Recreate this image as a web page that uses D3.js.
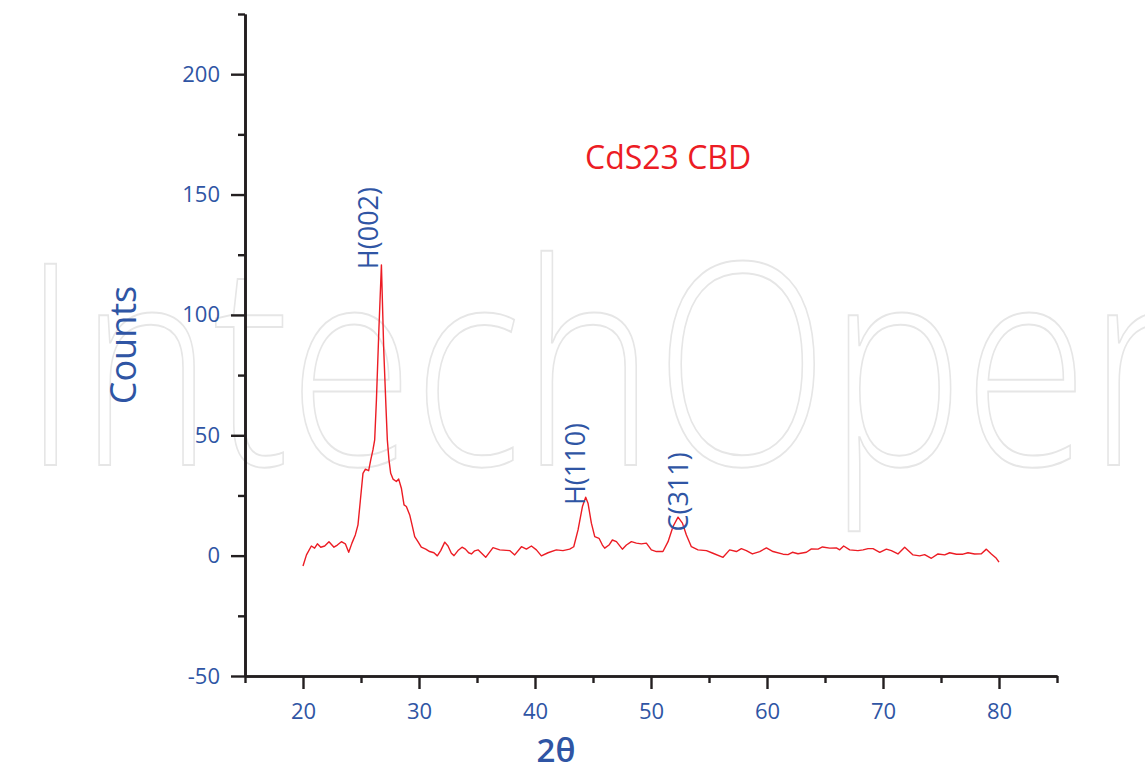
<!DOCTYPE html>
<html>
<head>
<meta charset="utf-8">
<script src="https://cdn.jsdelivr.net/npm/d3@7"></script>
<style>
  body { margin: 0; background: #fff; }
  svg { display: block; }
</style>
</head>
<body>
<svg id="chart" width="1145" height="770"></svg>
<script>
// 2theta positions and counts
var twoTheta = [20.0, 20.3, 20.72, 21.0, 21.24, 21.53, 21.87, 22.24, 22.67, 22.96, 23.31, 23.65, 23.94, 24.22, 24.51, 24.74,
  24.95, 25.17, 25.38, 25.66, 25.84, 26.03, 26.18, 26.33, 26.55, 26.76, 26.96, 27.15, 27.27, 27.41, 27.56, 27.76, 28.05,
  28.25, 28.48, 28.71, 28.91, 29.2, 29.4, 29.63, 29.91, 30.2, 30.58, 30.92, 31.29, 31.58, 31.87, 32.22, 32.5, 32.79,
  33.02, 33.36, 33.71, 34.0, 34.28, 34.52, 34.8, 35.09, 35.75, 36.38, 36.96, 37.82, 38.25, 38.83, 39.26, 39.69, 40.12,
  40.55, 41.12, 41.84, 42.41, 42.99, 43.34, 43.71, 44.09, 44.37, 44.57, 44.86, 45.15, 45.52, 45.81, 46.01, 46.38,
  46.67, 47.02, 47.53, 47.88, 48.31, 48.74, 49.17, 49.6, 50.03, 50.47, 51.03, 51.47, 51.9, 52.33, 52.71, 53.05, 53.48,
  54.05, 54.78, 55.34, 56.21, 56.78, 57.36, 57.79, 58.22, 58.74, 59.37, 59.95, 60.52, 61.38, 61.81, 62.19, 62.67,
  63.4, 63.83, 64.4, 64.78, 65.41, 65.98, 66.27, 66.61, 67.13, 67.84, 68.28, 68.71, 69.14, 69.72, 70.29, 70.72,
  71.29, 71.87, 72.59, 73.16, 73.59, 74.17, 74.74, 75.32, 75.75, 76.33, 76.9, 77.33, 77.9, 78.48, 78.91, 79.34,
  79.77, 80.0];
var counts = [-4.3, 0.3, 4.0, 3.1, 4.9, 3.5, 4.0, 5.8, 3.5, 4.4, 5.8, 4.9, 1.4, 5.2, 8.6, 12.8,
  23.2, 34.2, 35.9, 35.3, 39.8, 43.9, 48.1, 64.7, 95.0, 120.8, 85.5, 62.0, 48.1, 39.8, 34.2, 31.8, 30.8,
  31.8, 28.0, 21.1, 20.4, 16.9, 12.8, 7.9, 5.8, 3.5, 2.7, 1.7, 1.2, -0.1, 2.1, 5.6, 4.0, 1.0,
  0.0, 2.1, 3.5, 2.7, 1.2, 0.7, 2.0, 2.4, -0.7, 3.3, 2.4, 2.1, 0.3, 3.7, 2.7, 4.0, 2.4,
  -0.1, 1.2, 2.4, 2.1, 2.7, 3.7, 10.7, 20.4, 24.3, 21.8, 13.5, 7.9, 7.2, 4.4, 3.1, 4.4,
  6.5, 5.8, 2.7, 4.4, 5.8, 5.2, 4.9, 5.2, 2.4, 1.7, 1.7, 5.8, 12.1, 16.0, 13.5, 8.6, 3.7,
  2.4, 2.1, 1.0, -0.7, 2.4, 1.7, 2.9, 2.1, 0.7, 1.7, 3.2, 1.7, 0.6, 0.4, 1.4, 0.8,
  1.4, 2.8, 2.7, 3.6, 3.1, 3.2, 2.4, 4.0, 2.4, 2.1, 2.4, 2.9, 2.9, 1.4, 2.7, 2.1,
  0.7, 3.5, 0.3, -0.1, 0.4, -1.1, 0.7, 0.3, 1.2, 0.6, 0.6, 1.2, 0.7, 0.8, 2.7, 0.7,
  -1.1, -2.7];

var xMajor = [20, 30, 40, 50, 60, 70, 80];
var xMinor = [15, 25, 35, 45, 55, 65, 75, 85];
var yMajor = [-50, 0, 50, 100, 150, 200];
var yMinor = [-25, 25, 75, 125, 175, 225];

// peak labels: [2theta, counts at label foot, text]
var peakNames = ["H(002)", "H(110)", "C(311)"];
var peakX = [26.44, 44.3, 53.2];
var peakY = [119, 21, 10];

var blue = "#2f55a4", red = "#ec1c24", ink = "#231f20";
var svg = d3.select("#chart");

var x = d3.scaleLinear().domain([15, 85]).range([245, 1057]);
var y = d3.scaleLinear().domain([-50, 225]).range([676, 14]);

// faint publisher watermark behind the plot
svg.append("text")
  .attr("x", 22)
  .attr("y", 465)
  .attr("textLength", 1200)
  .attr("lengthAdjust", "spacingAndGlyphs")
  .style("font-family", "'Open Sans', sans-serif")
  .style("font-weight", 300)
  .style("font-size", "282px")
  .style("fill", "#fff")
  .style("stroke", "#e6e6e6")
  .style("stroke-width", 2)
  .text("IntechOpen");

function styleAxis(g) {
  g.select(".domain").attr("stroke", ink).attr("stroke-width", 2.6);
  g.selectAll(".tick line").attr("stroke", ink).attr("stroke-width", 2.4);
  g.selectAll(".tick text")
    .attr("fill", blue)
    .style("font-family", "'Open Sans', 'Noto Sans', sans-serif")
    .style("font-size", "22px");
}

function plain(d) { return String(d); }

var gx = svg.append("g").attr("transform", "translate(0,676)");
gx.append("g")
  .call(d3.axisBottom(x).tickValues(xMinor).tickSize(7).tickSizeOuter(0).tickFormat(""))
  .call(styleAxis);
gx.append("g")
  .call(d3.axisBottom(x).tickValues(xMajor).tickSize(13).tickSizeOuter(0).tickPadding(14).tickFormat(plain))
  .call(styleAxis);

var gy = svg.append("g").attr("transform", "translate(245,0)");
gy.append("g")
  .call(d3.axisLeft(y).tickValues(yMinor).tickSize(7).tickSizeOuter(0).tickFormat(""))
  .call(styleAxis);
gy.append("g")
  .call(d3.axisLeft(y).tickValues(yMajor).tickSize(14).tickSizeOuter(0).tickPadding(11).tickFormat(plain))
  .call(styleAxis);

// pattern
var line = d3.line()
  .x(function(d, i) { return x(twoTheta[i]); })
  .y(function(d) { return y(d); });

svg.append("path")
  .datum(counts)
  .attr("d", line)
  .attr("fill", "none")
  .attr("stroke", red)
  .attr("stroke-width", 1.4)
  .attr("stroke-linejoin", "round");

// peak indices, written upward
svg.selectAll("text.peak")
  .data(peakNames)
  .enter()
  .append("text")
  .attr("class", "peak")
  .attr("transform", function(d, i) {
    return "translate(" + x(peakX[i]) + "," + y(peakY[i]) + ") rotate(-90)";
  })
  .attr("fill", blue)
  .style("font-family", "'Open Sans', 'Noto Sans', sans-serif")
  .style("font-size", "27px")
  .text(function(d) { return d; });

svg.append("text")
  .attr("x", 585)
  .attr("y", 169)
  .attr("fill", red)
  .style("font-family", "'Open Sans', 'Noto Sans', sans-serif")
  .style("font-size", "32px")
  .text("CdS23 CBD");

svg.append("text")
  .attr("transform", "translate(136,345) rotate(-90)")
  .attr("text-anchor", "middle")
  .attr("fill", blue)
  .style("font-family", "'Open Sans', 'Noto Sans', sans-serif")
  .style("font-size", "36px")
  .text("Counts");

svg.append("text")
  .attr("x", 556)
  .attr("y", 762)
  .attr("text-anchor", "middle")
  .attr("fill", blue)
  .style("font-family", "'Open Sans', 'Noto Sans', sans-serif")
  .style("font-size", "33px")
  .style("font-weight", 600)
  .text("2θ");
</script>
</body>
</html>
